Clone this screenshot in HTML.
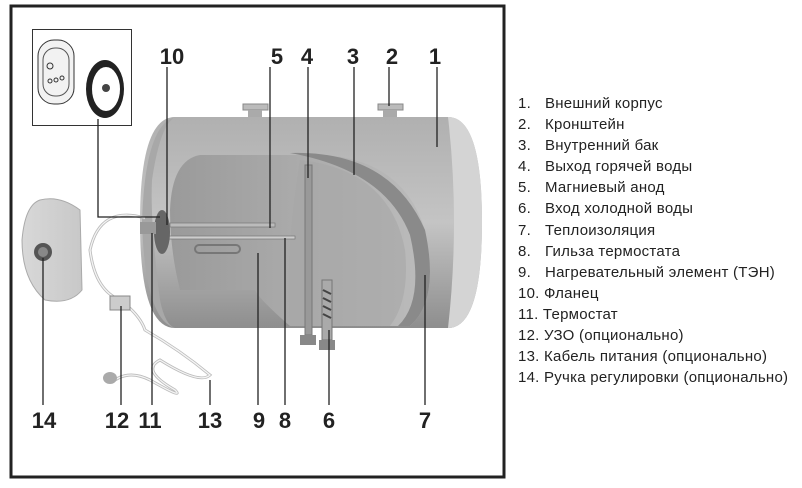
<!DOCTYPE html>
<html><head><meta charset="utf-8"><style>
body{margin:0;background:#fff;width:802px;height:488px;overflow:hidden;font-family:"Liberation Sans","DejaVu Sans",sans-serif}
.list{position:absolute;left:518px;top:93px;font-size:15px;letter-spacing:0.25px;color:#222;line-height:21.1px}
.list div{white-space:nowrap}
.list span{display:inline-block;width:27px}
</style></head><body>
<svg width="802" height="488" style="position:absolute;left:0;top:0">
<defs>
<linearGradient id="g1" x1="0" y1="0" x2="0" y2="1"><stop offset="0" stop-color="#b0b0b0"/><stop offset=".5" stop-color="#c4c4c4"/><stop offset="1" stop-color="#8e8e8e"/></linearGradient>
<linearGradient id="g2" x1="0" y1="0" x2="1" y2="0"><stop offset="0" stop-color="#9a9a9a"/><stop offset="1" stop-color="#bcbcbc"/></linearGradient>
<linearGradient id="g3" x1="0" y1="0" x2="1" y2="0"><stop offset="0" stop-color="#d8d8d8"/><stop offset="1" stop-color="#c8c8c8"/></linearGradient>
</defs>
<rect x="11" y="6" width="493" height="471" fill="none" stroke="#222" stroke-width="3"/>
<rect x="32.5" y="29.5" width="99" height="96" fill="#fff" stroke="#333"/>
<rect x="38" y="40" width="36" height="64" rx="16" fill="#f2f2f2" stroke="#333"/>
<rect x="43" y="48" width="26" height="48" rx="12" fill="none" stroke="#555"/>
<circle cx="50" cy="66" r="3" fill="none" stroke="#333"/><circle cx="56" cy="80" r="2" fill="none" stroke="#333"/><circle cx="62" cy="78" r="2" fill="none" stroke="#333"/><circle cx="50" cy="81" r="2" fill="none" stroke="#333"/>
<ellipse cx="105" cy="89" rx="19" ry="29" fill="#222"/><ellipse cx="106" cy="89" rx="14" ry="22" fill="#fff"/>
<circle cx="106" cy="88" r="4" fill="#444"/>
<path d="M175 117 H448 Q482 117 482 222 Q482 328 448 328 H175 Q140 328 140 222 Q140 117 175 117Z" fill="url(#g1)"/>
<path d="M448 117 Q482 117 482 222 Q482 328 448 328 Q460 222 448 117Z" fill="#d4d4d4"/>
<path d="M175 117 Q160 125 152 180 Q150 222 160 300 Q165 325 175 328 Q145 320 142 222 Q145 125 175 117Z" fill="#a8a8a8"/>
<path d="M200 155 H300 Q400 150 425 230 Q440 300 410 326 H290 Q260 300 255 290 H180 Q170 250 170 210 Q172 160 200 155Z" fill="url(#g2)"/>
<path d="M290 153 Q390 150 425 230 Q440 300 410 326 L398 326 Q425 300 410 235 Q385 170 290 153Z" fill="#8a8a8a"/>
<path d="M300 160 Q390 170 405 250 Q410 300 390 326 H290 Q285 250 300 160Z" fill="#a6a6a6" opacity=".6"/>
<rect x="243" y="104" width="25" height="6" fill="#bbb" stroke="#888"/><rect x="248" y="110" width="14" height="7" fill="#aaa"/>
<rect x="378" y="104" width="25" height="6" fill="#bbb" stroke="#888"/><rect x="383" y="110" width="14" height="7" fill="#aaa"/>
<rect x="305" y="165" width="7" height="170" fill="#999" stroke="#777"/>
<rect x="300" y="335" width="16" height="10" fill="#888"/>
<rect x="322" y="280" width="10" height="60" fill="#aaa" stroke="#777"/>
<rect x="319" y="340" width="16" height="10" fill="#888"/>
<path d="M323 290 l8 4 M323 298 l8 4 M323 306 l8 4 M323 314 l8 4" stroke="#444" stroke-width="2"/>
<rect x="170" y="223" width="105" height="4" fill="#bbb" stroke="#777" stroke-width=".7"/>
<rect x="165" y="236" width="130" height="3" fill="#ccc" stroke="#777" stroke-width=".7"/>
<rect x="195" y="245" width="45" height="8" rx="4" fill="none" stroke="#777" stroke-width="2"/>
<ellipse cx="162" cy="232" rx="8" ry="22" fill="#666"/>
<rect x="140" y="222" width="16" height="12" fill="#999"/>
<path d="M40 200 Q60 195 80 210 L82 290 Q70 305 45 300 Q22 280 22 240 Q25 205 40 200Z" fill="url(#g3)" stroke="#aaa"/>
<circle cx="43" cy="252" r="9" fill="#555"/><circle cx="43" cy="252" r="5" fill="#888"/>
<path d="M145 218 Q100 205 90 250 Q95 290 120 300 Q140 315 145 330 Q180 350 210 375 Q200 385 160 360 Q140 370 175 390 Q185 400 150 380 Q130 370 115 380" fill="none" stroke="#bbb" stroke-width="3"/>
<path d="M145 218 Q100 205 90 250 Q95 290 120 300 Q140 315 145 330 Q180 350 210 375 Q200 385 160 360 Q140 370 175 390 Q185 400 150 380 Q130 370 115 380" fill="none" stroke="#f4f4f4" stroke-width="1.3"/>
<rect x="110" y="296" width="20" height="14" fill="#ccc" stroke="#888"/>
<ellipse cx="110" cy="378" rx="7" ry="6" fill="#aaa"/>
<g stroke="#222" stroke-width="1.3" fill="none">
<path d="M98 119 V217 H160"/><path d="M167 67 V225"/>
<path d="M270 67 V228"/><path d="M308 67 V178"/><path d="M354 67 V175"/><path d="M389 67 V106"/><path d="M437 67 V147"/>
<path d="M43 258 V405"/><path d="M121 306 V405"/><path d="M152 233 V405"/><path d="M210 380 V405"/>
<path d="M258 253 V405"/><path d="M285 238 V405"/><path d="M329 330 V405"/><path d="M425 275 V405"/>
</g>
<g font-family="Liberation Sans,sans-serif" font-weight="bold" font-size="22" fill="#222" text-anchor="middle">
<text x="172" y="64">10</text><text x="277" y="64">5</text><text x="307" y="64">4</text><text x="353" y="64">3</text><text x="392" y="64">2</text><text x="435" y="64">1</text>
<text x="44" y="428">14</text><text x="117" y="428">12</text><text x="150" y="428">11</text><text x="210" y="428">13</text><text x="259" y="428">9</text><text x="285" y="428">8</text><text x="329" y="428">6</text><text x="425" y="428">7</text>
</g>
</svg>
<div class="list">
<div><span>1.</span>Внешний корпус</div>
<div><span>2.</span>Кронштейн</div>
<div><span>3.</span>Внутренний бак</div>
<div><span>4.</span>Выход горячей воды</div>
<div><span>5.</span>Магниевый анод</div>
<div><span>6.</span>Вход холодной воды</div>
<div><span>7.</span>Теплоизоляция</div>
<div><span>8.</span>Гильза термостата</div>
<div><span>9.</span>Нагревательный элемент (ТЭН)</div>
<div>10. Фланец</div>
<div>11. Термостат</div>
<div>12. УЗО (опционально)</div>
<div>13. Кабель питания (опционально)</div>
<div>14. Ручка регулировки (опционально)</div>
</div>
</body></html>
